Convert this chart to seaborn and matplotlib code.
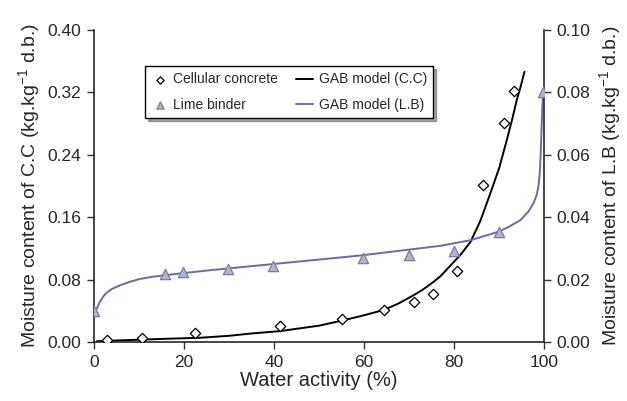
import numpy as np
import pandas as pd
import matplotlib
matplotlib.use("Agg")
import matplotlib.pyplot as plt
import seaborn as sns

# Measured points
cc_aw = [2.8, 10.7, 22.5, 41.3, 55.0, 64.4, 71.0, 75.3, 80.7, 86.4, 91.0, 93.2]
cc_m = [0.003, 0.0055, 0.011, 0.020, 0.030, 0.041, 0.051, 0.061, 0.091, 0.201, 0.281, 0.321]

lb_aw = [0.0, 15.8, 19.8, 29.8, 39.8, 59.8, 70.0, 80.0, 90.0, 99.8]
lb_m = [0.0100, 0.0217, 0.0224, 0.0233, 0.0243, 0.0268, 0.0278, 0.0291, 0.0353, 0.0800]

# GAB model curves
gab_cc_aw = [0.6, 5.0, 10.0, 15.0, 23.6, 30.0, 35.0, 41.3, 45.0, 50.0, 54.7, 59.1, 64.3,
             67.5, 71.0, 73.0, 75.4, 76.9, 79.0, 81.3, 83.6, 85.8, 88.0, 90.0, 91.7,
             93.0, 93.9, 94.8, 95.6]
gab_cc_m = [0.001, 0.002, 0.003, 0.004, 0.0055, 0.008, 0.011, 0.014, 0.017, 0.021, 0.027,
            0.033, 0.041, 0.049, 0.060, 0.067, 0.077, 0.084, 0.097, 0.111, 0.128, 0.155,
            0.190, 0.223, 0.259, 0.288, 0.310, 0.328, 0.346]

gab_lb_aw = [0.0, 0.3, 0.7, 1.3, 2.0, 2.8, 4.0, 5.8, 8.0, 10.2, 13.0, 15.8, 20.0, 25.8,
             40.0, 59.1, 76.9, 83.6, 89.8, 92.0, 94.7, 96.5, 97.6, 98.3, 98.7, 99.0,
             99.2, 99.4, 99.6, 99.8, 100.0]
gab_lb_m = [0.0092, 0.0098, 0.0110, 0.0129, 0.0145, 0.0158, 0.0170, 0.0182, 0.0193, 0.0202,
            0.0209, 0.0214, 0.0221, 0.0230, 0.0250, 0.0277, 0.0308, 0.0326, 0.0353, 0.0368,
            0.0390, 0.0418, 0.0444, 0.0470, 0.0497, 0.0540, 0.0600, 0.0680, 0.0760, 0.0800,
            0.0800]

xticks = [0, 20, 40, 60, 80, 100]
yticks_left = [0.00, 0.08, 0.16, 0.24, 0.32, 0.40]
yticks_right = [0.00, 0.02, 0.04, 0.06, 0.08, 0.10]

sns.set_style("ticks")
plt.rcParams['font.family'] = ['Liberation Sans', 'DejaVu Sans']
plt.rcParams['mathtext.fontset'] = 'custom'
plt.rcParams['mathtext.rm'] = 'Liberation Sans'
plt.rcParams['mathtext.it'] = 'Liberation Sans:italic'
plt.rcParams['mathtext.default'] = 'regular'

fig = plt.figure(figsize=(6.27, 4.01), dpi=100)
ax = fig.add_axes([0.150, 0.147, 0.718, 0.779])
ax2 = ax.twinx()

lb_color = "#6b6baa"
tri_face = "#b4b4c8"
tri_edge = "#7a7aa6"

df_cc = pd.DataFrame({"aw": cc_aw, "m": cc_m})
df_lb = pd.DataFrame({"aw": lb_aw, "m": lb_m})
df_gcc = pd.DataFrame({"aw": gab_cc_aw, "m": gab_cc_m})
df_glb = pd.DataFrame({"aw": gab_lb_aw, "m": gab_lb_m})

sns.lineplot(data=df_gcc, x="aw", y="m", ax=ax, color="black", lw=1.4, sort=False, label="GAB model (C.C)", legend=False)
sns.scatterplot(data=df_cc, x="aw", y="m", ax=ax, marker="D", s=28, facecolor="white", edgecolor="black", linewidth=0.9, zorder=5, label="Cellular concrete", legend=False)

sns.lineplot(data=df_glb, x="aw", y="m", ax=ax2, color=lb_color, lw=1.4, sort=False, label="GAB model (L.B)", legend=False)
sns.scatterplot(data=df_lb, x="aw", y="m", ax=ax2, marker="^", s=55, facecolor=tri_face, edgecolor=tri_edge, linewidth=0.9, zorder=5, label="Lime binder", legend=False)

ax.set_xlim(0, 100)
ax.set_ylim(0, 0.40)
ax2.set_ylim(0, 0.10)
ax.set_xticks(xticks)
ax.set_yticks(yticks_left)
ax.set_yticklabels([f"{v:.2f}" for v in yticks_left])
ax2.set_yticks(yticks_right)
ax2.set_yticklabels([f"{v:.2f}" for v in yticks_right])

for a in (ax, ax2):
    a.spines['top'].set_visible(False)
    a.tick_params(labelsize=12.5, length=5, width=1, color="#333333", direction="out", pad=4)
    for s in a.spines.values():
        s.set_linewidth(1.2)
ax.spines['right'].set_visible(False)
ax2.spines['left'].set_visible(False)
ax2.spines['bottom'].set_visible(False)

ax.set_xlabel("Water activity (%)", fontsize=14.5, labelpad=1)
ax.set_ylabel("Moisture content of C.C (kg.kg$^{-1}$ d.b.)", fontsize=14, labelpad=4)
ax2.set_ylabel("Moisture content of L.B (kg.kg$^{-1}$ d.b.)", fontsize=14, labelpad=5)

h1, l1 = ax.get_legend_handles_labels()
h2, l2 = ax2.get_legend_handles_labels()
hd = dict(zip(l1 + l2, h1 + h2))
order = ["Cellular concrete", "Lime binder", "GAB model (C.C)", "GAB model (L.B)"]
leg = ax.legend([hd[k] for k in order], order, ncol=2, loc="upper left",
                bbox_to_anchor=(0.113, 0.883), fontsize=10, frameon=True,
                fancybox=False, shadow=True, edgecolor="black", markerscale=0.7,
                handlelength=1.2, handletextpad=0.4, columnspacing=1.3,
                borderpad=0.45, labelspacing=0.8, borderaxespad=0)
leg.get_frame().set_linewidth(1.0)
leg.set_zorder(10)

fig.savefig("out.png", dpi=100)
